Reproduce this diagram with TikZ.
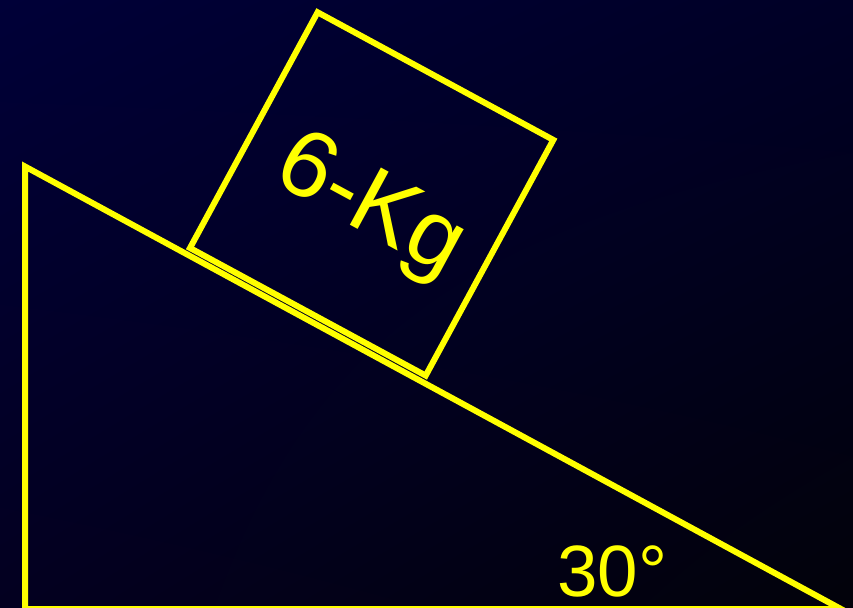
\documentclass[tikz,border=0pt]{standalone}
\usepackage{fontspec}
\setmainfont{Liberation Sans}
\usetikzlibrary{shadings}
\definecolor{ylw}{RGB}{255,255,0}
\definecolor{bgUL}{RGB}{0,0,56}
\definecolor{bgUR}{RGB}{0,0,38}
\definecolor{bgLL}{RGB}{3,0,32}
\definecolor{bgLR}{RGB}{2,2,10}
\tikzset{
  edge/.style={draw=ylw, line width=6bp, line join=miter},
  lbl/.style={text=ylw, inner sep=0pt, outer sep=0pt, anchor=base west}
}
\begin{document}
\begin{tikzpicture}[x=1bp,y=-1bp]
\useasboundingbox (0,0) rectangle (853,608);
\shade[upper left=bgUL, upper right=bgUR, lower left=bgLL, lower right=bgLR] (0,0) rectangle (853,608);
\clip (0,0) rectangle (853,608);
% incline
\coordinate (apex) at (25,166.5);
\coordinate (foot) at (25,609);
\coordinate (tip) at (841,609);
\draw[edge] (apex) -- (foot) -- (tip) -- cycle;
% block
\coordinate (bl) at (190,248);
\coordinate (br) at (425.7,375.6);
\coordinate (tr) at (553.3,139.9);
\coordinate (tl) at (317.6,12.3);
\draw[edge] (bl) -- (br) -- (tr) -- (tl) -- cycle;
% labels
\node[lbl, rotate=-28.46, font=\fontsize{95}{95}\selectfont] (mass) at (270,181) {6-Kg};
\node[lbl, font=\fontsize{73}{73}\selectfont] (angle) at (557.5,596.5) {30°};
\end{tikzpicture}
\end{document}
